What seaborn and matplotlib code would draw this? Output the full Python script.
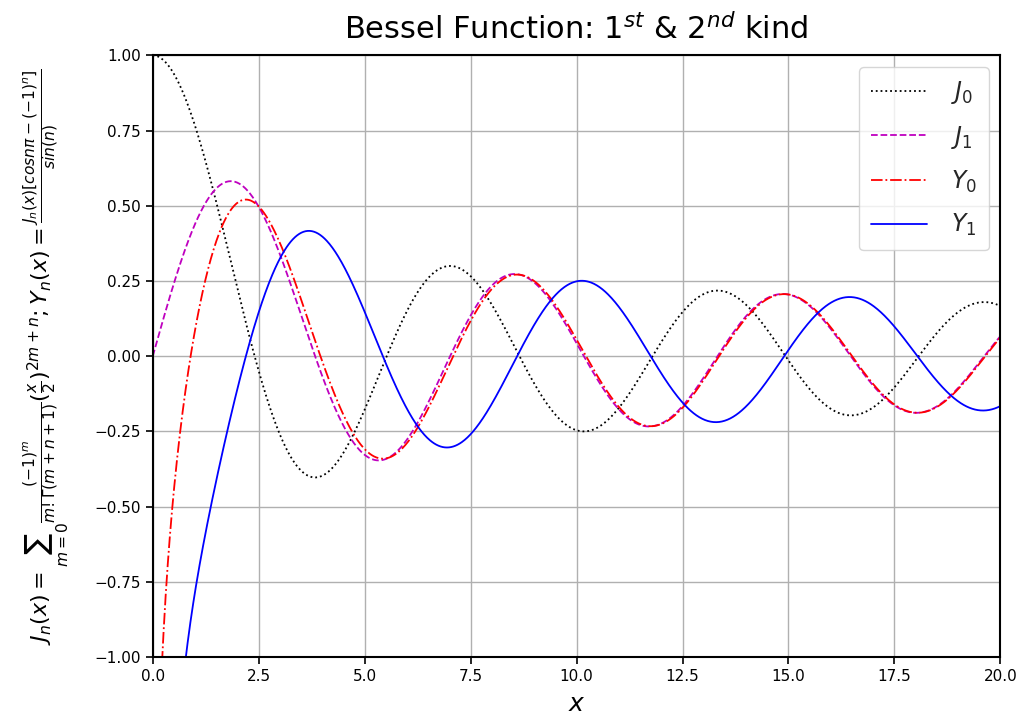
import numpy as np
import pandas as pd
import matplotlib
matplotlib.use("Agg")
import matplotlib.pyplot as plt
import seaborn as sns

# ---- data: Bessel functions J0, J1, Y0, Y1 on x in (0, 20] ----
x_values = np.linspace(0.005, 20, 1200)
series_names = ["$J_0$", "$J_1$", "$Y_0$", "$Y_1$"]
orders = [0, 1, 0, 1]
kinds = ["J", "J", "Y", "Y"]
x_ticks = [0.0, 2.5, 5.0, 7.5, 10.0, 12.5, 15.0, 17.5, 20.0]
y_ticks = [-1.00, -0.75, -0.50, -0.25, 0.00, 0.25, 0.50, 0.75, 1.00]
title_text = r"Bessel Function: $1^{st}$ & $2^{nd}$ kind"
ylabel_text = (r"$J_n(x)=\sum_{m=0}\frac{(-1)^m}{m!\Gamma(m+n+1)}(\frac{x}{2})^{2m+n}$"
               r"$;Y_n(x)=\frac{J_n(x)[cos n\pi-(-1)^n]}{sin(n)}$")

theta = np.linspace(0, np.pi, 2001)
tgrid = np.linspace(0, 14, 60001)


def bessel_j(n, x):
    vals = np.cos(n * theta[None, :] - x[:, None] * np.sin(theta)[None, :])
    return np.trapezoid(vals, theta, axis=1) / np.pi


def bessel_y(n, x):
    out = np.empty_like(x)
    for i, xi in enumerate(x):
        a = np.trapezoid(np.sin(xi * np.sin(theta) - n * theta), theta) / np.pi
        w = (np.exp(n * tgrid) + (-1) ** n * np.exp(-n * tgrid)) * np.exp(-xi * np.sinh(tgrid))
        b = np.trapezoid(w, tgrid) / np.pi
        out[i] = a - b
    return out


frames = []
for name, n, k in zip(series_names, orders, kinds):
    xx = x_values if k == "Y" else np.concatenate([[0.0], x_values])
    yy = bessel_j(n, xx) if k == "J" else bessel_y(n, xx)
    frames.append(pd.DataFrame({"x": xx, "y": yy, "series": name}))
df = pd.concat(frames, ignore_index=True)

# ---- plot ----
sns.set_theme(style="ticks")
plt.rcParams["font.family"] = ["DejaVu Sans"]
plt.rcParams["mathtext.fontset"] = "dejavusans"

fig, ax = plt.subplots(figsize=(10.25, 7.19), dpi=100)
fig.subplots_adjust(left=0.149, right=0.976, top=0.923, bottom=0.086)

styles = {"$J_0$": ("black", ":"), "$J_1$": ("#bf00bf", "--"),
          "$Y_0$": ("#ff0000", "-."), "$Y_1$": ("#0000ff", "-")}
for name in series_names:
    c, ls = styles[name]
    sns.lineplot(data=df[df["series"] == name], x="x", y="y", ax=ax,
                 color=c, linestyle=ls, linewidth=1.3, label=name,
                 sort=False, estimator=None)

ax.set_xlim(0, 20)
ax.set_ylim(-1, 1)
ax.set_xticks(x_ticks)
ax.set_xticklabels([f"{t:.1f}" for t in x_ticks], fontsize=11, color="black")
ax.set_yticks(y_ticks)
ax.set_yticklabels([f"{t:.2f}".replace("-", "\u2212") for t in y_ticks],
                   fontsize=11, color="black")
ax.grid(True, color="#b0b0b0", linewidth=1.0)
for s in ax.spines.values():
    s.set_color("black")
    s.set_linewidth(1.5)
ax.tick_params(axis="both", direction="out", length=5, width=1.2, color="black")

ax.set_title(title_text, fontsize=22, pad=12, color="black")
ax.set_xlabel("$x$", fontsize=18, labelpad=6, color="black")
ax.set_ylabel(ylabel_text, fontsize=16, labelpad=16, color="black")

leg = ax.legend(loc="upper right", fontsize=17, handlelength=2.4,
                handletextpad=1.0, frameon=True, framealpha=0.8,
                edgecolor="#cccccc", borderpad=0.5, labelspacing=0.75)

fig.savefig("out.png", dpi=100)
